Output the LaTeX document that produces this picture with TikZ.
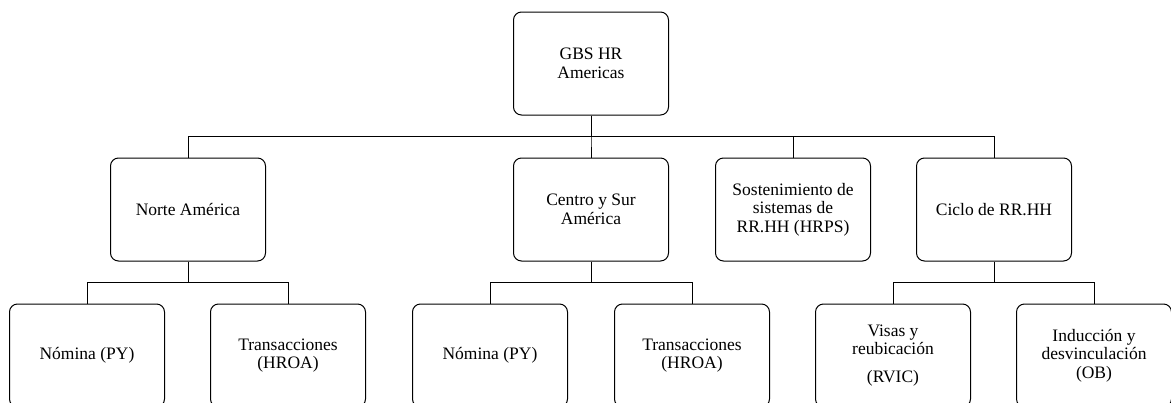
\documentclass[tikz,border=0pt]{standalone}
\usepackage{fontspec}
\setmainfont{Liberation Serif}
\usepackage{tikz}
\usetikzlibrary{positioning}

\begin{document}
\begin{tikzpicture}[x=1pt, y=-1pt, node distance=42pt,
  caja/.style={draw, line width=1pt, rounded corners=8pt, minimum width=155pt, minimum height=103pt, align=center, font=\fontsize{17.5}{18.5}\selectfont}]
  \useasboundingbox (0,0) rectangle (1171,402);
  \node[caja] at (591,63.5) (gbs)  {GBS HR\\Americas};
  \node[caja, below=42pt of gbs]  (csa)  {Centro y Sur\\América};
  \node[caja, left=247pt of csa]  (na)  {Norte América};
  \node[caja, right=46pt of csa]  (hrps)  {Sostenimiento de\\sistemas de\\RR.HH (HRPS)};
  \node[caja, right=45pt of hrps]  (ciclo)  {Ciclo de RR.HH};
  \node[caja, below=42pt of na, xshift=-101pt]  (py1)  {Nómina (PY)};
  \node[caja, below=42pt of na, xshift=100pt]  (hroa1)  {Transacciones\\(HROA)};
  \node[caja, below=42pt of csa, xshift=-101pt]  (py2)  {Nómina (PY)};
  \node[caja, below=42pt of csa, xshift=101pt]  (hroa2)  {Transacciones\\(HROA)};
  \node[caja, below=42pt of ciclo, xshift=-101pt]  (rvic)  {Visas y\\reubicación\\[9pt](RVIC)};
  \node[caja, below=42pt of ciclo, xshift=100pt]  (ob)  {Inducción y\\desvinculación\\(OB)};

  \draw[-, line width=1pt] (gbs.south) -- ++(0,21) -| (na.north);
  \draw[-, line width=1pt] (gbs.south) -- ++(0,21) -| (csa.north);
  \draw[-, line width=1pt] (gbs.south) -- ++(0,21) -| (hrps.north);
  \draw[-, line width=1pt] (gbs.south) -- ++(0,21) -| (ciclo.north);
  \draw[-, line width=1pt] (na.south) -- ++(0,21) -| (py1.north);
  \draw[-, line width=1pt] (na.south) -- ++(0,21) -| (hroa1.north);
  \draw[-, line width=1pt] (csa.south) -- ++(0,21) -| (py2.north);
  \draw[-, line width=1pt] (csa.south) -- ++(0,21) -| (hroa2.north);
  \draw[-, line width=1pt] (ciclo.south) -- ++(0,21) -| (rvic.north);
  \draw[-, line width=1pt] (ciclo.south) -- ++(0,21) -| (ob.north);
\end{tikzpicture}
\end{document}
